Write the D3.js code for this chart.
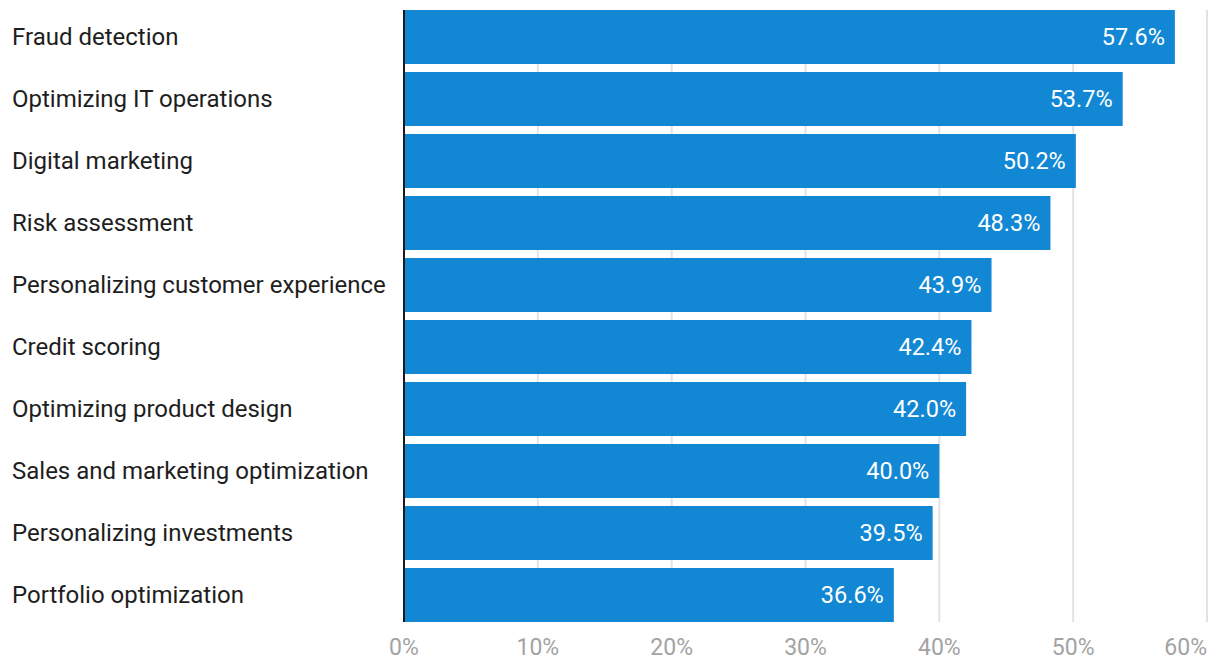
<!DOCTYPE html>
<html>
<head>
<meta charset="utf-8">
<script src="https://cdn.jsdelivr.net/npm/d3@7"></script>
<style>
  html, body { margin: 0; padding: 0; background: #fff; }
  svg { display: block; font-family: Roboto, sans-serif; }
</style>
</head>
<body>
<div id="chart"></div>
<script>
// chart data
var categories = ["Fraud detection", "Optimizing IT operations", "Digital marketing", "Risk assessment",
  "Personalizing customer experience", "Credit scoring", "Optimizing product design",
  "Sales and marketing optimization", "Personalizing investments", "Portfolio optimization"];
var values = [57.6, 53.7, 50.2, 48.3, 43.9, 42.4, 42.0, 40.0, 39.5, 36.6];
var tickValues = [0, 10, 20, 30, 40, 50, 60];

var width = 1220, height = 668;
var left = 404, right = 1207;

var svg = d3.select("#chart").append("svg")
  .attr("width", width).attr("height", height);

var x = d3.scaleLinear().domain([0, 60]).range([left, right]);
var y = d3.scaleBand().domain(categories).range([6, 626])
  .paddingInner(8 / 62).paddingOuter(4 / 62);

// gridlines
svg.append("g").selectAll("line")
  .data(tickValues.slice(1))
  .enter().append("line")
  .attr("x1", function(d) { return x(d); })
  .attr("x2", function(d) { return x(d); })
  .attr("y1", 10).attr("y2", 622)
  .attr("stroke", "#e3e3e3").attr("stroke-width", 2);

// tick labels (last one kept inside the frame)
svg.append("g").selectAll("text")
  .data(tickValues)
  .enter().append("text")
  .attr("x", function(d) { return x(d); })
  .attr("y", 655)
  .attr("text-anchor", function(d, i) { return i === tickValues.length - 1 ? "end" : "middle"; })
  .attr("font-size", 23)
  .attr("fill", "#a3a3a3")
  .text(function(d) { return d + "%"; });

// bars
svg.append("g").selectAll("rect")
  .data(values)
  .enter().append("rect")
  .attr("x", x(0))
  .attr("y", function(d, i) { return y(categories[i]); })
  .attr("width", function(d) { return x(d) - x(0); })
  .attr("height", y.bandwidth())
  .attr("fill", "#1287d4");

// value labels
svg.append("g").selectAll("text")
  .data(values)
  .enter().append("text")
  .attr("x", function(d) { return x(d) - 10; })
  .attr("y", function(d, i) { return y(categories[i]) + y.bandwidth() / 2; })
  .attr("dy", "0.36em")
  .attr("text-anchor", "end")
  .attr("font-size", 23.5)
  .attr("fill", "#fff")
  .text(function(d) { return d.toFixed(1) + "%"; });

// category labels
svg.append("g").selectAll("text")
  .data(categories)
  .enter().append("text")
  .attr("x", 12)
  .attr("y", function(d) { return y(d) + y.bandwidth() / 2; })
  .attr("dy", "0.34em")
  .attr("font-size", 24)
  .attr("fill", "#1e1e1e")
  .text(function(d) { return d; });

// baseline
svg.append("line")
  .attr("x1", x(0)).attr("x2", x(0))
  .attr("y1", 10).attr("y2", 622)
  .attr("stroke", "#1a1a1a").attr("stroke-width", 2);
</script>
</body>
</html>
